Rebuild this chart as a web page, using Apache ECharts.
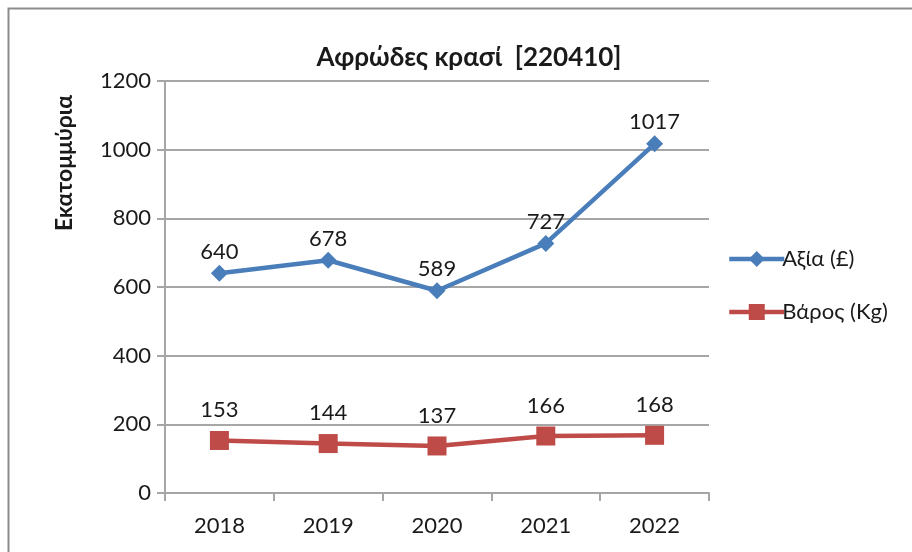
<!DOCTYPE html>
<html>
<head>
<meta charset="utf-8">
<script src="https://cdn.jsdelivr.net/npm/echarts@6/dist/echarts.min.js"></script>
<style>
  html, body { margin: 0; padding: 0; background: #fff; }
  #chart { width: 912px; height: 552px; }
</style>
</head>
<body>
<div id="chart"></div>
<script>
const years = ['2018', '2019', '2020', '2021', '2022'];
const valueGBP = [640, 678, 589, 727, 1017];
const weightKg = [153, 144, 137, 166, 168];
const yTicks = [0, 200, 400, 600, 800, 1000, 1200];

const fontFam = 'Lato, "Open Sans", sans-serif';
const colorAxis = '#a6a6a6';

const chart = echarts.init(document.getElementById('chart'));

chart.setOption({
    animation: false,
    title: {
        text: 'Αφρώδες κρασί  [220410]',
        left: 464,
        textAlign: 'center',
        top: 40,
        textStyle: {
            fontFamily: fontFam,
            fontSize: 26,
            fontWeight: 'bold',
            color: '#1a1a1a'
        }
    },
    graphic: [{
        type: 'rect',
        left: 6,
        top: 6,
        shape: { width: 920, height: 560 },
        style: { fill: 'none', stroke: '#8c8c8c', lineWidth: 2 },
        silent: true
    }, {
        type: 'text',
        x: 65,
        y: 163,
        rotation: Math.PI / 2,
        style: {
            text: 'Εκατομμύρια',
            font: 'bold 23px ' + fontFam,
            fill: '#1a1a1a',
            align: 'center',
            verticalAlign: 'middle'
        }
    }],
    legend: {
        orient: 'vertical',
        left: 722,
        top: 243,
        itemGap: 31,
        itemWidth: 55,
        itemHeight: 20,
        lineStyle: { width: 4.5 },
        textStyle: {
            fontFamily: fontFam,
            fontSize: 22,
            color: '#1a1a1a',
            padding: [0, 0, 0, -7]
        },
        data: ['Αξία (£)', 'Βάρος (Kg)']
    },
    grid: {
        left: 165,
        top: 81,
        width: 544,
        height: 412
    },
    xAxis: {
        type: 'category',
        data: years,
        boundaryGap: true,
        axisLine: { lineStyle: { color: colorAxis, width: 2 } },
        axisTick: { show: true, length: 8, lineStyle: { color: colorAxis, width: 2 } },
        axisLabel: {
            margin: 22,
            fontFamily: fontFam,
            fontSize: 22,
            color: '#1a1a1a'
        }
    },
    yAxis: {
        type: 'value',
        min: yTicks[0],
        max: yTicks[yTicks.length - 1],
        interval: 200,
        axisLine: { show: true, lineStyle: { color: colorAxis, width: 2 } },
        axisTick: { show: true, length: 8, lineStyle: { color: colorAxis, width: 2 } },
        splitLine: { lineStyle: { color: colorAxis, width: 2 } },
        axisLabel: {
            margin: 14,
            fontFamily: fontFam,
            fontSize: 22,
            color: '#1a1a1a',
            formatter: function (v) { return String(v); }
        }
    },
    series: [{
        name: 'Αξία (£)',
        type: 'line',
        data: valueGBP,
        color: '#4a7ebb',
        symbol: 'diamond',
        symbolSize: 17,
        lineStyle: { width: 4.5, color: '#4a7ebb' },
        itemStyle: { color: '#4a7ebb' },
        label: {
            show: true,
            position: 'top',
            distance: 2,
            fontFamily: fontFam,
            fontSize: 22,
            color: '#1a1a1a'
        }
    }, {
        name: 'Βάρος (Kg)',
        type: 'line',
        data: weightKg,
        color: '#be4b48',
        symbol: 'rect',
        symbolSize: 19,
        lineStyle: { width: 4.5, color: '#be4b48' },
        itemStyle: { color: '#be4b48' },
        label: {
            show: true,
            position: 'top',
            distance: 10,
            fontFamily: fontFam,
            fontSize: 22,
            color: '#1a1a1a'
        }
    }]
});
</script>
</body>
</html>
